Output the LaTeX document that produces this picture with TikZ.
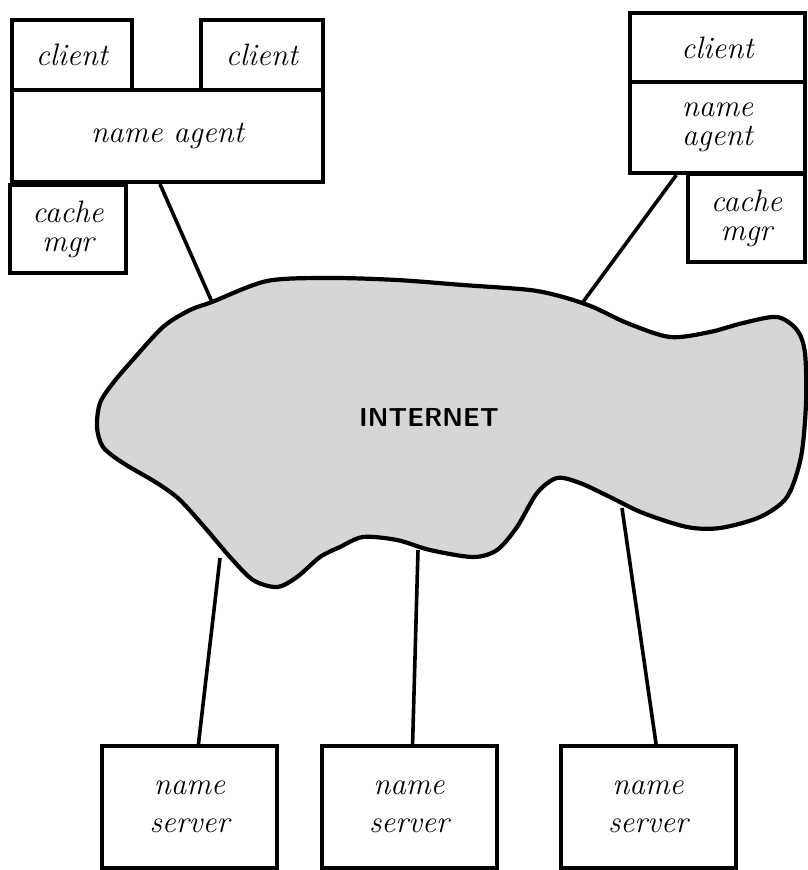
\documentclass[tikz,border=0pt]{standalone}
\usepackage{tikz}
\usetikzlibrary{calc}

\tikzset{
  box/.style={draw, line width=4pt, inner sep=0pt, align=center,
    font=\fontsize{31}{29}\selectfont\itshape},
  server/.style={box, minimum width=175, minimum height=122,
    font=\fontsize{31}{38}\selectfont\itshape},
  link/.style={line width=3.6pt},
}

\begin{document}
\begin{tikzpicture}[x=1pt, y=-1pt]
  \useasboundingbox (0,0) rectangle (808,870);

  % left host
  \node[box, minimum width=120, minimum height=70] (cl1) at (72,55) {client};
  \node[box, minimum width=122, minimum height=70] (cl2) at (262,55) {client};
  \node[box, minimum width=311, minimum height=92] (agL) at (167.5,136) {name agent};
  \node[box, minimum width=116, minimum height=88] (cmL) at (68,229) {cache\\mgr};

  % right host
  \node[box, minimum width=175, minimum height=69] (clR) at (717.5,47.5) {client};
  \node[box, minimum width=175, minimum height=91] (agR) at (717.5,127.5) {name\\agent};
  \node[box, minimum width=117, minimum height=88] (cmR) at (746.5,218) {cache\\mgr};

  % servers
  \node[server] (ns1) at (189.5,807) {name\\server};
  \node[server] (ns2) at (409,807) {name\\server};
  \node[server] (ns3) at (648,807) {name\\server};

  % the net
  \draw[line width=4.2pt, fill=gray!32] plot[smooth cycle, tension=0.5] coordinates {
    (212,302) (267,281) (330,278) (397,280) (463,285) (530,290) (563,297)
    (593,307) (627,323) (670,337) (710,332) (743,323) (777,317) (797,330)
    (805,353) (806,403) (801,457) (787,497) (760,517) (720,528) (687,527)
    (643,513) (610,497) (580,483) (557,478) (537,493) (517,527) (497,550)
    (473,557) (430,550) (397,540) (363,537) (340,547) (320,557) (297,577)
    (277,587) (253,580) (230,557) (207,530) (180,500) (157,483) (123,463)
    (103,447) (97,427) (100,403) (113,383) (130,363) (163,327) (190,310)};
  \node[font=\fontsize{26}{26}\selectfont\sffamily\bfseries] (net) at (429,417) {INTERNET};

  \coordinate (inL) at (212,302);
  \coordinate (inR) at (583,302);
  \coordinate (in1) at (220,558);
  \coordinate (in2) at (418,550);
  \coordinate (in3) at (622,508);

  \draw[link] ($(agL.south west)!0.476!(agL.south east)$) -- (inL);
  \draw[link] ($(agR.south west)!0.27!(agR.south east)$) -- (inR);
  \draw[link] (in1) -- ($(ns1.north west)!0.55!(ns1.north east)$);
  \draw[link] (in2) -- ($(ns2.north west)!0.52!(ns2.north east)$);
  \draw[link] (in3) -- ($(ns3.north west)!0.545!(ns3.north east)$);
\end{tikzpicture}
\end{document}
